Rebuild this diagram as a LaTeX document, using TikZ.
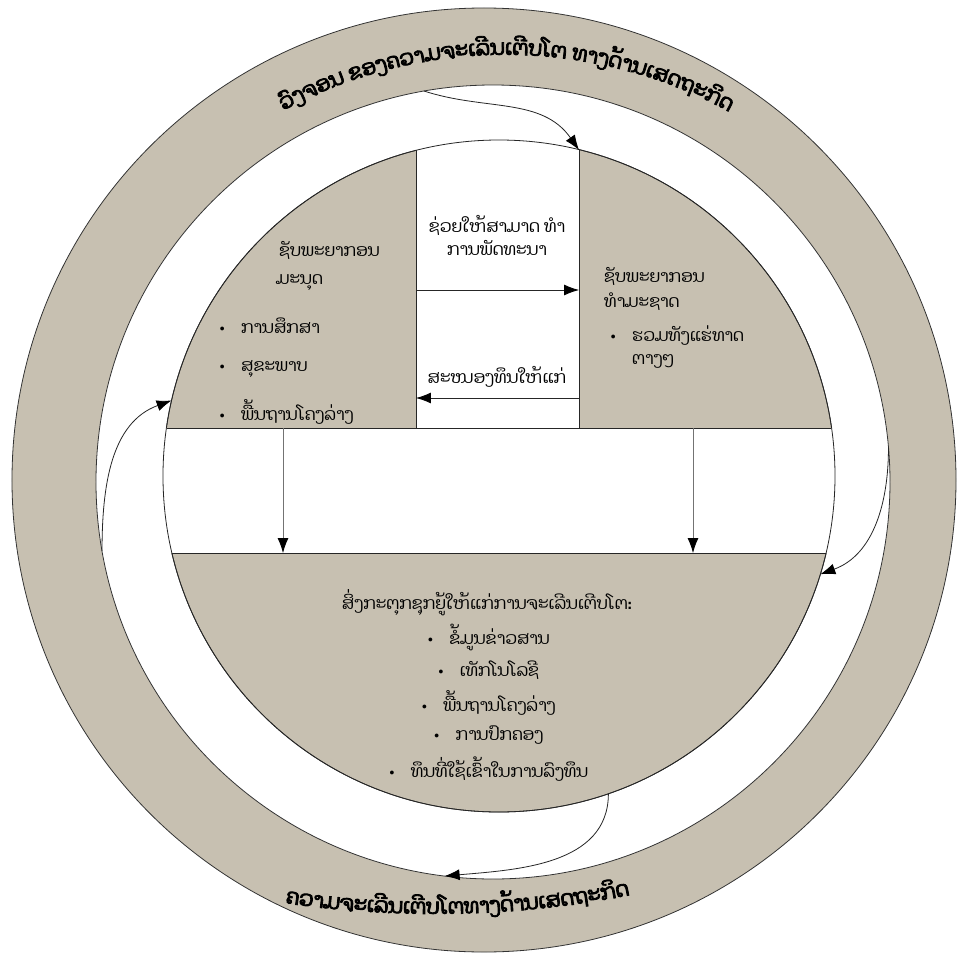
\documentclass[tikz,border=0pt]{standalone}
\usepackage{fontspec}
\newfontfamily\laofont[Script=Lao]{Dhyana}
\newfontfamily\laobold[Script=Lao,FakeBold=4]{Dhyana}
\usetikzlibrary{arrows.meta,decorations.text}
\definecolor{ringgray}{RGB}{199,192,177}
\newcommand{\bul}{\makebox[25pt][l]{\rmfamily\textbullet}}

\begin{document}
\begin{tikzpicture}[x=1pt, y=1pt,
    lao/.style={font=\laofont\fontsize{17}{23}\selectfont, inner sep=0pt},
    disc/.style={circle, inner sep=0pt, outer sep=0pt, draw=black!80, line width=0.8pt},
    edge/.style={draw=black!85, line width=0.8pt},
    tip/.style={-{Latex[length=15pt,width=11pt,color=black]}},
    down/.style={draw=black!55, line width=0.8pt, tip}]
    \useasboundingbox (-484,-474) rectangle (477,480);

    % rings and discs
    \node[disc, fill=ringgray, minimum size=944] (outer) at (0,0) {};
    \node[disc, fill=white, minimum size=794] (ring) at (9,-2) {};
    \node[disc, fill=ringgray, minimum size=672] (inner) at (15,4) {};

    \fill[white] (-68,52) rectangle (95,345);
    \fill[white] (-330,-73) rectangle (360,52);
    \draw[edge] (inner.center) circle[radius=336];

    \coordinate (colTL) at (-68,330);
    \coordinate (colTR) at (95,330);
    \coordinate (colBL) at (-68,52);
    \coordinate (colBR) at (95,52);
    \coordinate (bandTL) at (-317,52);
    \coordinate (bandTR) at (347,52);
    \coordinate (bandBL) at (-312,-73);
    \coordinate (bandBR) at (342,-73);

    \draw[edge] (colTL) -- (colBL);
    \draw[edge] (colTR) -- (colBR);
    \draw[edge] (bandTL) -- (bandTR);
    \draw[edge] (bandBL) -- (bandBR);

    % ring texts
    \path[decorate, decoration={text along path, text align=center,
        text={|\laobold\fontsize{21}{25}\selectfont|{ວົ}ງຈອນ ຂອງຄວາມຈະເ{ລີ}ນເ{ຕີ}ບໂຕ ທາງ{ດ້}ານເສດຖະ{ກິ}ດ}}]
        (-212,363) .. controls (-68,446) and (112,446) .. (256,362);
    \path[decorate, decoration={text along path, text align=center,
        text={|\laobold\fontsize{21}{25}\selectfont|ຄວາມຈະເ{ລີ}ນເ{ຕີ}ບໂຕທາງ{ດ້}ານເສດຖະ{ກິ}ດ}}]
        (-199,-423) .. controls (-90,-440) and (40,-437) .. (146,-415);

    % column
    \node[lao, align=center] (help) at (13,245) {ຊ່ວຍໃຫ້ສາມາດ ທຳ\\ການພັດທະນາ};
    \node[lao] (fund) at (13,103) {ສະໜອງທຶນໃຫ້ແກ່};
    \coordinate (toL) at (-68,190);
    \coordinate (toR) at (95,190);
    \coordinate (backR) at (95,82);
    \coordinate (backL) at (-68,82);
    \draw[edge, tip] (toL) -- (toR);
    \draw[edge, tip] (backR) -- (backL);

    % left block
    \node[lao, anchor=west] (hum1) at (-205,230) {ຊັບພະຍາກອນ};
    \node[lao, anchor=west] (hum2) at (-208,197) {ມະນຸດ};
    \node[lao, anchor=west] (edu) at (-268,154) {\bul ການສຶກສາ};
    \node[lao, anchor=west] (health) at (-268,111) {\bul ສຸຂະພາບ};
    \node[lao, anchor=west] (infra) at (-268,68) {\bul ພື້ນຖານໂຄງລ່າງ};

    % right block
    \node[lao, anchor=west] (nat1) at (120,204) {ຊັບພະຍາກອນ};
    \node[lao, anchor=west] (nat2) at (120,178) {ທຳມະຊາດ};
    \node[lao, anchor=west] (min1) at (123,144) {\bul ຮວມທັງແຮ່ທາດ};
    \node[lao, anchor=west] (min2) at (148,119) {ຕາງໆ};

    % down arrows
    \coordinate (dL1) at (-201,52);
    \coordinate (dL2) at (-201,-73);
    \coordinate (dR1) at (209,52);
    \coordinate (dR2) at (209,-73);
    \draw[down] (dL1) -- (dL2);
    \draw[down] (dR1) -- (dR2);

    % bottom block
    \node[lao] (stim) at (3,-123) {ສິ່ງກະຕຸກຊຸກຍູ້ໃຫ້ແກ່ການຈະເລີນເຕີບໂຕ:};
    \node[lao] (info) at (3,-157) {\bul ຂໍ້ມູນຂ່າວສານ};
    \node[lao] (tech) at (3,-190) {\bul ເທັກໂນໂລຊີ};
    \node[lao] (base) at (3,-223) {\bul ພື້ນຖານໂຄງລ່າງ};
    \node[lao] (gov) at (3,-255) {\bul ການປົກຄອງ};
    \node[lao] (cap) at (3,-289) {\bul ທຶນທີ່ໃຊ້ເຂົ້າໃນການລົງທຶນ};

    % cycle arrows
    \draw[edge, tip] (ring.100) to[out=-18, in=125] (colTR);
    \draw[edge, tip] (ring.190) to[out=90, in=200] (inner.167);
    \draw[edge, tip] (ring.5) to[out=-90, in=20] (inner.-17);
    \draw[edge, tip] (inner.-71) to[out=-90, in=5] (ring.263);
\end{tikzpicture}
\end{document}
